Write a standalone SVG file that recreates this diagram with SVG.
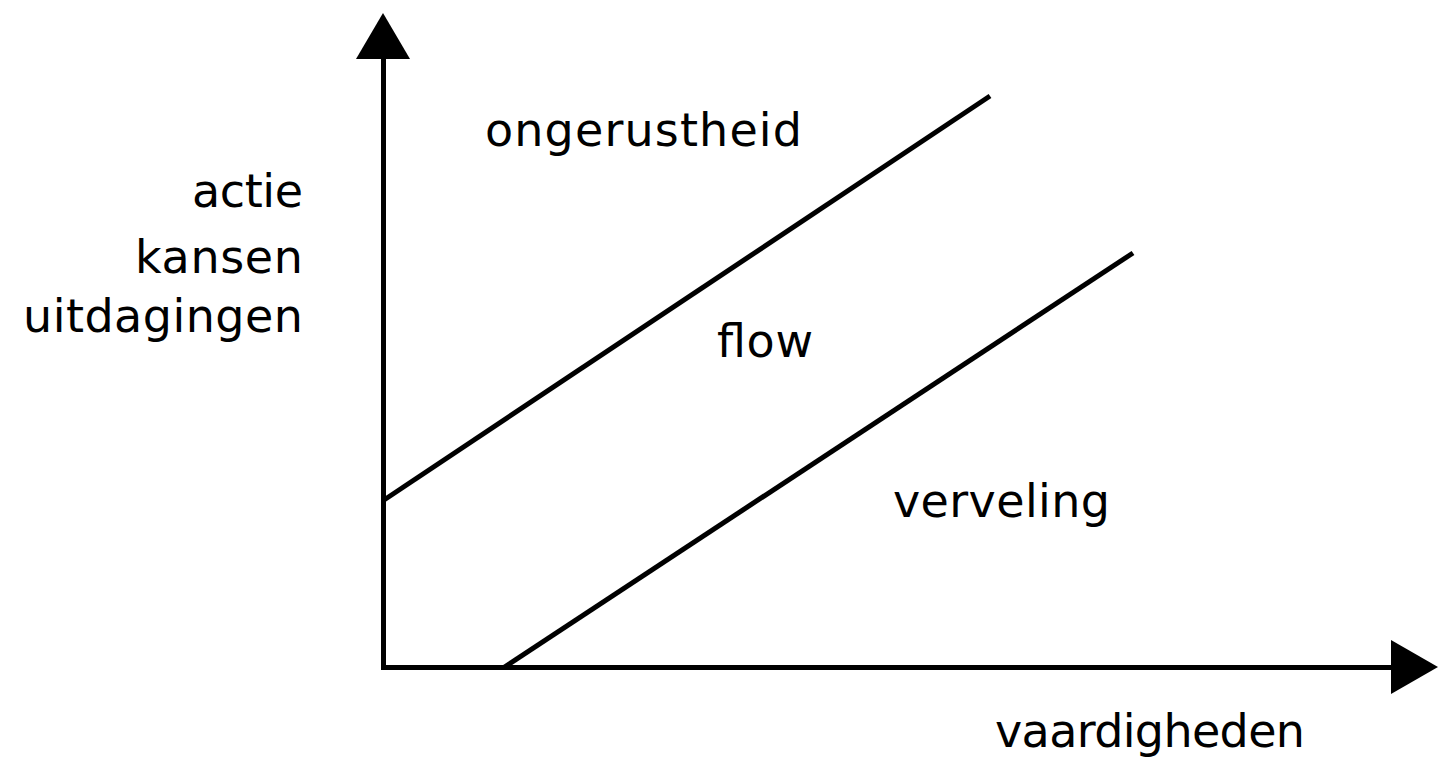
<svg xmlns="http://www.w3.org/2000/svg" width="1444" height="762" viewBox="0 0 1444 762">
<style>
.t{font-family:"DejaVu Sans","Noto Sans",sans-serif;font-size:46px;fill:#000}
.ln{stroke:#000;stroke-width:5;fill:none}
</style>
<rect width="1444" height="762" fill="#fff"/>
<g id="axes">
<line class="ln" x1="383.5" y1="50" x2="383.5" y2="670"/>
<line class="ln" x1="381" y1="667.5" x2="1400" y2="667.5"/>
<polygon points="383,13 356,59 410,59" fill="#000"/>
<polygon points="1438,667 1391,640 1391,694" fill="#000"/>
</g>
<g id="connectors">
<line class="ln" x1="384" y1="500" x2="990" y2="96"/>
<line class="ln" x1="503" y1="668" x2="1133" y2="253"/>
</g>
<g id="labels">
<text class="t" x="192" y="207" textLength="111" lengthAdjust="spacing">actie</text>
<text class="t" x="135" y="273" textLength="168" lengthAdjust="spacing">kansen</text>
<text class="t" x="23" y="332" textLength="280" lengthAdjust="spacing">uitdagingen</text>
<text class="t" x="485" y="146" textLength="317" lengthAdjust="spacing">ongerustheid</text>
<text class="t" x="717" y="357" textLength="96" lengthAdjust="spacing">flow</text>
<text class="t" x="893" y="517" textLength="217" lengthAdjust="spacing">verveling</text>
<text class="t" x="995" y="747" textLength="310" lengthAdjust="spacing">vaardigheden</text>
</g>
</svg>
